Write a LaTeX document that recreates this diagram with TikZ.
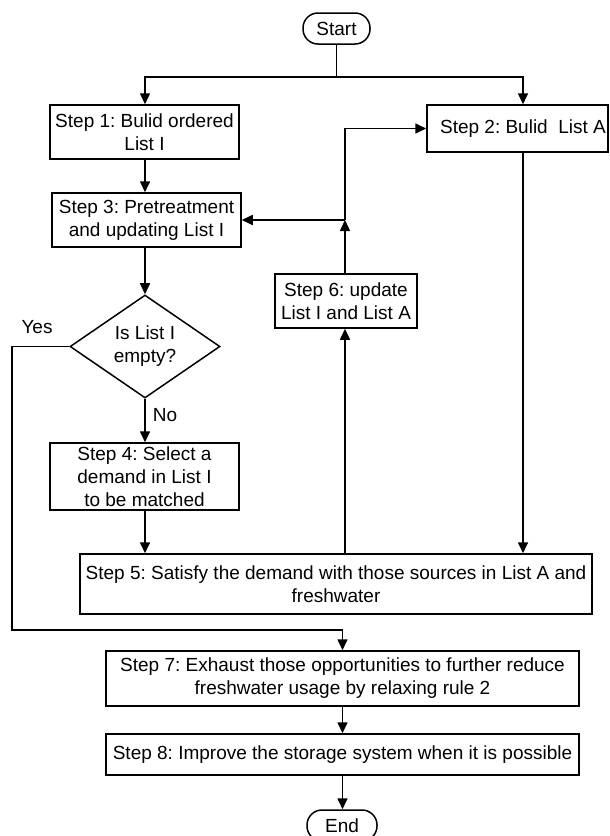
\documentclass[tikz,border=0pt]{standalone}
\usepackage{fontspec}
\setmainfont{Liberation Sans}
\usetikzlibrary{shapes.geometric,arrows.meta}
\frenchspacing
\begin{document}
\begin{tikzpicture}[x=1pt,y=-1pt,
  every node/.style={font=\fontsize{19}{23}\selectfont},
  box/.style={draw,line width=1.5pt,rectangle,align=center,inner sep=0pt},
  term/.style={draw,line width=1.5pt,rectangle,rounded corners=15pt,align=center,inner sep=0pt,minimum height=31pt},
  decision/.style={draw,line width=1.5pt,diamond,align=center,inner sep=0pt,minimum width=150pt,minimum height=89pt},
  lbl/.style={inner sep=0pt},
  conn/.style={line width=1.6pt,-{Triangle[length=11pt,width=10pt]}},
  plain/.style={line width=1.6pt}]
\useasboundingbox (0,0) rectangle (610,836);
% nodes
\node[term,minimum width=67pt] (start) at (336.5,28.5) {Start};
\node[box,minimum width=189pt,minimum height=54pt] (s1) at (144.5,132) {Step 1: Bulid ordered\\List I};
\node[box,minimum width=181pt,minimum height=47pt] (s2) at (517.5,128.5) {\hspace*{11pt}Step 2: Bulid~~List A};
\node[box,minimum width=189pt,minimum height=54pt] (s3) at (146.5,220) {Step 3: Pretreatment\\and updating List I};
\node[decision] (d) at (145,346.5) {Is List I\\empty?};
\node[box,minimum width=189pt,minimum height=67pt] (s4) at (144.5,476.5) {Step 4: Select a\\demand in List I\\to be matched};
\node[box,minimum width=142pt,minimum height=54pt] (s6) at (346,301) {Step 6: update\\List I and List A};
\node[box,minimum width=512pt,minimum height=60pt] (s5) at (336,584) {Step 5: Satisfy the demand with those sources in List A and\\freshwater};
\node[box,minimum width=473pt,minimum height=55pt] (s7) at (342.5,678.5) {Step 7: Exhaust those opportunities to further reduce\\freshwater usage by relaxing rule 2};
\node[box,minimum width=473pt,minimum height=41pt] (s8) at (342.5,754.5) {Step 8: Improve the storage system when it is possible};
\node[term,minimum width=70pt] (end) at (342,825.5) {End};
\node[lbl] (yes) at (37,327) {Yes};
\node[lbl] (no) at (165,415) {No};
% helper coordinates
\coordinate (jl) at (145,77);
\coordinate (jr) at (523,77);
\coordinate (v) at (345,220);
\coordinate (yx) at (12,630);
% connectors
\draw[plain] (start.south) -- (start.south |- jl);
\draw[conn] (start.south |- jl) -- (jl) -- (jl |- s1.north);
\draw[conn] (start.south |- jl) -- (jr) -- (jr |- s2.north);
\draw[conn] (jl |- s1.south) -- (jl |- s3.north);
\draw[conn] (d.north |- s3.south) -- (d.north);
\draw[conn] (d.south) -- (d.south |- s4.north);
\draw[conn] (d.south |- s4.south) -- (d.south |- s5.north);
\draw[conn] (v |- s5.north) -- (v |- s6.south);
\draw[conn] (v |- s6.north) -- (v);
\draw[conn] (v) -- (s3.east |- v);
\draw[conn] (v) -- (v |- s2.west) -- (s2.west);
\draw[conn] (jr |- s2.south) -- (jr |- s5.north);
\draw[conn] (d.west) -- (d.west -| yx) -- (yx) -- (yx -| s7.north) -- (s7.north);
\draw[conn] (s7.south) -- (s8.north);
\draw[conn] (s8.south) -- (s8.south |- end.north);
\end{tikzpicture}
\end{document}
